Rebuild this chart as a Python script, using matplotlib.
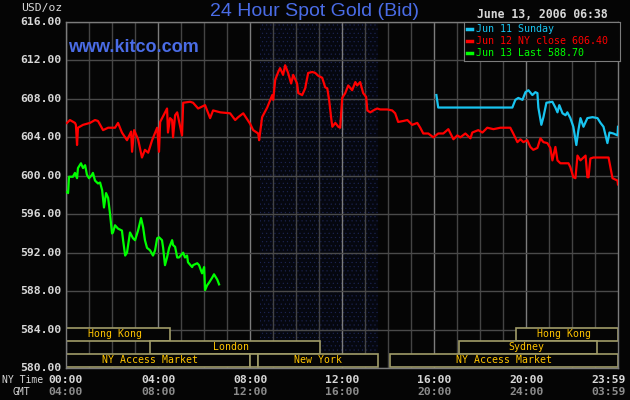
import matplotlib
matplotlib.use('Agg')
import numpy as np
import matplotlib.pyplot as plt
from matplotlib.patches import Rectangle

# hours since 00:00 NY time, price in USD/oz
jun12_t = [0.04, 0.17, 0.39, 0.43, 0.48, 0.52, 0.74, 1.04, 1.26, 1.39, 1.61, 1.83, 2.13, 2.26,
           2.43, 2.65, 2.83, 2.87, 2.96, 3.13, 3.30, 3.43, 3.57, 3.74, 3.96, 4.04, 4.09, 4.39,
           4.43, 4.52, 4.61, 4.65, 4.74, 4.83, 5.04, 5.09, 5.39, 5.52, 5.74, 6.04, 6.26, 6.39,
           6.70, 7.13, 7.35, 7.48, 7.70, 8.00, 8.13, 8.35, 8.39, 8.52, 8.74, 8.96, 9.00, 9.09,
           9.22, 9.30, 9.43, 9.52, 9.65, 9.78, 9.87, 10.04, 10.09, 10.26, 10.39, 10.52, 10.70,
           10.83, 10.96, 11.13, 11.26, 11.35, 11.43, 11.52, 11.57, 11.70, 11.83, 11.91, 12.00,
           12.13, 12.26, 12.43, 12.57, 12.65, 12.78, 12.91, 13.04, 13.09, 13.22, 13.35, 13.52,
           13.65, 13.96, 14.17, 14.30, 14.43, 14.65, 14.83, 15.04, 15.26, 15.39, 15.52, 15.74,
           15.96, 16.17, 16.39, 16.61, 16.83, 17.00, 17.13, 17.35, 17.57, 17.65, 17.91, 18.09,
           18.30, 18.57, 18.87, 19.30, 19.43, 19.61, 19.74, 19.87, 20.04, 20.17, 20.30, 20.48,
           20.61, 20.74, 20.91, 21.04, 21.13, 21.26, 21.35, 21.48, 21.83, 21.91, 22.04, 22.13,
           22.22, 22.35, 22.57, 22.65, 22.70, 22.78, 22.91, 23.57, 23.65, 23.74, 23.96, 23.98]
jun12_p = [605.5, 605.8, 605.5, 605.3, 603.2, 605.0, 605.3, 605.5, 605.8, 605.7, 604.75, 605.0,
           605.0, 605.5, 604.5, 603.7, 604.6, 602.5, 604.75, 603.8, 601.9, 602.7, 602.4, 603.7,
           605.0, 602.5, 605.6, 607.0, 604.5, 606.0, 605.8, 604.0, 606.3, 606.6, 604.2, 607.6,
           607.7, 607.6, 607.0, 607.35, 606.0, 606.8, 606.6, 606.5, 605.8, 606.1, 606.5, 605.4,
           604.75, 604.4, 603.7, 606.1, 607.1, 608.4, 607.9, 610.0, 610.8, 611.2, 610.5, 611.5,
           610.7, 609.6, 610.5, 609.6, 608.6, 608.4, 609.1, 610.7, 610.8, 610.7, 610.4, 610.2,
           609.2, 609.1, 607.9, 606.0, 605.1, 605.5, 605.1, 605.0, 608.1, 608.6, 609.4, 608.9,
           609.75, 609.4, 609.75, 608.6, 608.2, 606.8, 606.6, 606.8, 607.0, 606.9, 606.9, 606.8,
           606.5, 605.6, 605.7, 605.8, 605.3, 605.5, 605.0, 604.4, 604.4, 604.0, 604.4, 604.4,
           604.85, 603.8, 604.2, 604.0, 604.4, 603.9, 604.5, 604.75, 604.5, 605.0, 604.85, 605.0,
           605.0, 604.4, 603.5, 603.8, 603.5, 603.7, 603.0, 602.7, 602.9, 603.9, 603.5, 603.4,
           602.9, 601.6, 603.0, 601.6, 601.3, 601.3, 600.9, 599.85, 599.75, 602.1, 601.6, 602.1,
           599.85, 599.85, 601.8, 601.9, 601.9, 600.9, 599.75, 599.5, 599.1]

jun11_t = [16.09, 16.17, 19.39, 19.52, 19.65, 19.83, 19.96, 20.09, 20.26, 20.39, 20.48, 20.52,
           20.65, 20.74, 20.87, 21.13, 21.26, 21.35, 21.43, 21.57, 21.70, 21.78, 21.91, 22.04,
           22.17, 22.26, 22.35, 22.48, 22.65, 22.87, 23.09, 23.22, 23.35, 23.52, 23.61, 23.78,
           23.96, 23.98]
jun11_p = [608.4, 607.1, 607.1, 607.9, 608.1, 607.9, 608.7, 608.9, 608.4, 608.7, 608.6, 607.1,
           605.3, 606.1, 607.6, 607.7, 607.1, 606.6, 607.35, 606.5, 606.3, 606.6, 606.0, 605.1,
           603.2, 604.75, 606.0, 605.1, 606.0, 606.1, 606.0, 605.5, 605.1, 603.4, 604.5, 604.4,
           604.2, 605.1]

jun13_t = [0.04, 0.09, 0.13, 0.30, 0.39, 0.48, 0.52, 0.65, 0.74, 0.83, 0.91, 1.00, 1.13, 1.17,
           1.26, 1.39, 1.48, 1.57, 1.65, 1.74, 1.83, 1.91, 2.00, 2.04, 2.13, 2.26, 2.43, 2.48,
           2.57, 2.65, 2.78, 2.91, 3.00, 3.13, 3.26, 3.35, 3.43, 3.52, 3.65, 3.78, 3.87, 3.96,
           4.04, 4.17, 4.22, 4.30, 4.39, 4.48, 4.61, 4.65, 4.74, 4.83, 4.91, 5.09, 5.17, 5.26,
           5.30, 5.48, 5.52, 5.70, 5.78, 5.91, 6.00, 6.04, 6.13, 6.22, 6.35, 6.43, 6.57, 6.65]
jun13_p = [598.3, 598.2, 599.9, 599.9, 600.3, 599.75, 600.8, 601.3, 600.8, 601.1, 600.1, 599.75,
           600.1, 600.3, 599.5, 599.2, 599.3, 598.5, 596.7, 598.2, 597.7, 596.1, 594.0, 594.1,
           594.85, 594.5, 594.3, 593.3, 591.7, 592.0, 594.1, 593.5, 593.3, 594.3, 595.6, 594.65,
           593.3, 592.5, 592.25, 591.7, 592.25, 593.5, 593.6, 593.3, 592.5, 590.7, 591.5, 592.5,
           593.3, 592.8, 592.6, 591.5, 591.5, 592.0, 591.5, 591.7, 591.0, 590.5, 590.7, 590.9,
           590.7, 589.85, 590.5, 588.1, 588.6, 588.9, 589.4, 589.75, 589.2, 588.7]

y_ticks = [580, 584, 588, 592, 596, 600, 604, 608, 612, 616]
ny_labels = ['00:00', '04:00', '08:00', '12:00', '16:00', '20:00', '23:59']
gmt_labels = ['04:00', '08:00', '12:00', '16:00', '20:00', '24:00', '03:59']
label_hours = [0, 4, 8, 12, 16, 20, 23.55]

# (name, start hour, end hour, row, label x)
sessions = [
    ('Hong Kong', 0.0, 4.52, 0, 2.13),
    ('Hong Kong', 19.57, 23.98, 0, 21.65),
    ('London', 3.65, 11.04, 1, 7.17),
    ('Sydney', 17.09, 23.07, 1, 20.0),
    ('NY Access Market', 0.0, 8.0, 2, 3.65),
    ('', 8.0, 8.35, 2, 0),
    ('New York', 8.35, 13.57, 2, 10.96),
    ('NY Access Market', 14.09, 23.98, 2, 19.04),
]
row_edges = [(582.8, 584.2), (581.5, 582.8), (580.1, 581.5)]

bg = '#050505'
mono = 'DejaVu Sans Mono'

fig = plt.figure(figsize=(6.3, 4.0), dpi=100, facecolor=bg)
ax = fig.add_axes([66/630, 1-368/400, 552/630, 346/400], facecolor=bg)

# COMEX hours shading
plt.rcParams['hatch.linewidth'] = 0.3
ax.axvspan(8.43, 13.57, facecolor='#05070f', edgecolor='#1e2656', hatch='....', lw=0, zorder=0)

for h in range(0, 24):
    ax.axvline(h, color='#7c7c7c' if h % 4 == 0 else '#444444', lw=1, zorder=1)
for v in y_ticks:
    ax.axhline(v, color='#4a4a4a', lw=1, zorder=1)

for name, t0, t1, row, lx in sessions:
    lo, hi = row_edges[row]
    ax.add_patch(Rectangle((t0, lo), t1 - t0, hi - lo, facecolor=bg, edgecolor='#a09c68',
                           lw=1.2, zorder=2))
    if name:
        ax.text(lx, (lo + hi) / 2, name, color='#ffc400', family=mono, fontsize=7.1,
                ha='center', va='center', zorder=3)

ax.plot(jun12_t, jun12_p, color='#ff0000', lw=1.6, zorder=4)
ax.plot(jun11_t, jun11_p, color='#18c4f0', lw=1.6, zorder=4)
ax.plot(jun13_t, jun13_p, color='#00ff00', lw=1.6, zorder=4)

ax.set_xlim(0, 23.98)
ax.set_ylim(580, 616)
ax.set_xticks([])
ax.set_yticks([])
for s in ax.spines.values():
    s.set_color('#7c7c7c')
    s.set_linewidth(1)

for v in y_ticks:
    ax.text(-0.008, v, '%.2f' % v, transform=ax.get_yaxis_transform(), ha='right', va='center',
            color='#d8d8d8', family=mono, fontweight='bold', fontsize=8.2)

for h, a, b in zip(label_hours, ny_labels, gmt_labels):
    ax.text(h, -0.035, a, transform=ax.get_xaxis_transform(), ha='center', va='center',
            color='#d8d8d8', family=mono, fontweight='bold', fontsize=8.2)
    ax.text(h, -0.07, b, transform=ax.get_xaxis_transform(), ha='center', va='center',
            color='#8c8c8c', family=mono, fontweight='bold', fontsize=8.2)

fig.text(2/630, 1-380/400, 'NY Time', color='#d8d8d8', family=mono, fontsize=7, va='center')
fig.text(12/630, 1-392/400, 'GMT', color='#d8d8d8', family=mono, fontsize=7, va='center')
fig.text(62/630, 1-8/400, 'USD/oz', color='#d8d8d8', family=mono, fontsize=8.2,
         ha='right', va='center')

fig.text(314/630, 1-12/400, '24 Hour Spot Gold (Bid)', color='#4a6ce6', family='Liberation Sans',
         fontsize=14, ha='center', va='center')
fig.text(68/630, 1-48/400, 'www.kitco.com', color='#4a6ce6', family='Liberation Sans',
         fontweight='bold', fontsize=13, va='center')
fig.text(608/630, 1-14/400, 'June 13, 2006 06:38', color='#d8d8d8', family=mono,
         fontweight='bold', fontsize=8.3, ha='right', va='center')

# legend box
lg = fig.add_axes([464/630, 1-61/400, 156/630, 39/400], facecolor=bg)
lg.set_xlim(0, 156)
lg.set_ylim(39, 0)
lg.set_xticks([])
lg.set_yticks([])
for s in lg.spines.values():
    s.set_color('#7c7c7c')
legend_items = [('Jun 11 Sunday', '#18c4f0'), ('Jun 12 NY close 606.40', '#ff0000'),
                ('Jun 13 Last 588.70', '#00ff00')]
for i, (lab, c) in enumerate(legend_items):
    y = 7 + i * 12
    lg.plot([3, 8], [y, y], color=c, lw=2.5)
    lg.text(12, y, lab, color=c, family=mono, fontsize=7.2, va='center')

fig.savefig('out.png', dpi=100, facecolor=bg)
